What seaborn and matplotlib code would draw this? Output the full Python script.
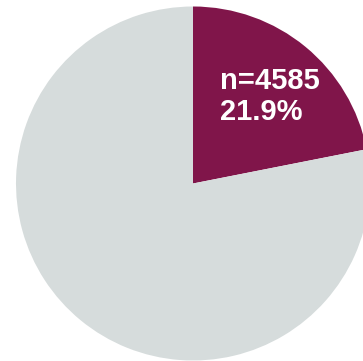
import matplotlib
matplotlib.use("Agg")
import matplotlib.pyplot as plt
import seaborn as sns

categories = ["Group", "Rest"]
shares = [21.9, 78.1]
n_value = 4585
colors = ["#80154A", "#D6DCDC"]

sns.set_style("white")
plt.rcParams['font.family'] = ['Liberation Sans', 'DejaVu Sans']

W, H = 363, 361
fig = plt.figure(figsize=(W / 100, H / 100), dpi=100)
cx, cy, r = 193, 183.5, 177
ax = fig.add_axes([(cx - r) / W, (H - cy - r) / H, 2 * r / W, 2 * r / H])
ax.pie(shares, colors=colors, startangle=90, counterclock=False,
       wedgeprops=dict(linewidth=0), radius=1, center=(0, 0))
ax.set_xlim(-1, 1)
ax.set_ylim(-1, 1)
ax.set_aspect('auto')
ax.axis('off')

ax.text(0.155, 0.66, f"n={n_value}\n{shares[0]}%", color="white", fontsize=21,
        fontweight="bold", ha="left", va="top", linespacing=1.17)

fig.savefig("out.png", dpi=100)
